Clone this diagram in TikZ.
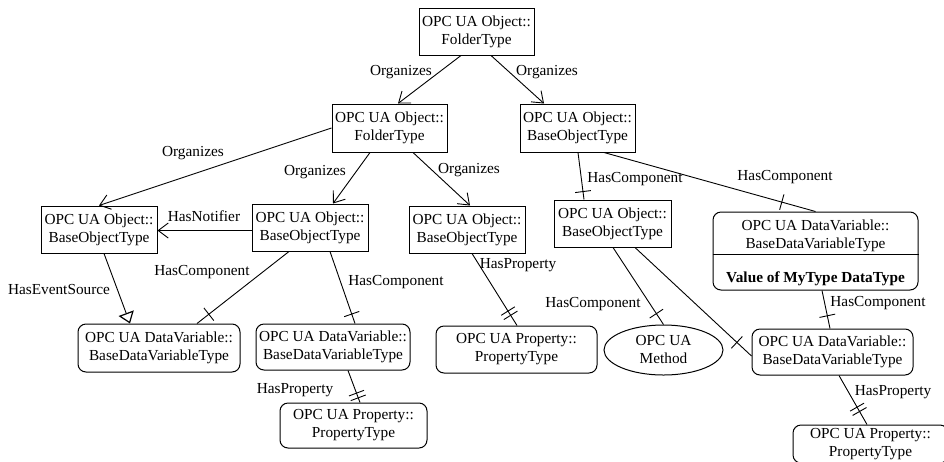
\documentclass[tikz,border=0pt]{standalone}
\usepackage{fontspec}
\setmainfont{Liberation Serif}
\usetikzlibrary{arrows.meta,shapes.geometric,decorations.markings}

\tikzset{
  base/.style={draw, line width=1pt, inner sep=0pt, align=center,
    font=\fontsize{15.3}{18}\selectfont},
  objbox/.style={base, rectangle, minimum width=#1, minimum height=47pt},
  varbox/.style={base, rectangle, rounded corners=8pt, minimum width=#1, minimum height=47pt},
  methodnode/.style={base, ellipse, minimum width=119pt, minimum height=50pt},
  lbl/.style={inner sep=0pt, font=\fontsize{15.3}{18}\selectfont},
  conn/.style={line width=0.9pt},
  organizes/.style={conn, -{Straight Barb[length=10pt,width=15pt,line width=0.9pt]}},
  eventsrc/.style={conn, -{Triangle[open,length=11pt,width=16pt,line width=1.2pt]}},
  onetick/.style={conn, postaction={decorate, decoration={markings,
      mark=at position -#1 with {\draw[line width=0.9pt] (0,-8pt) -- (0,8pt);}}}},
  twotick/.style={conn, postaction={decorate, decoration={markings,
      mark=at position -#1 with {\draw[line width=0.9pt] (0,-8pt) -- (0,8pt);},
      mark=at position -#1-5pt with {\draw[line width=0.9pt] (0,-8pt) -- (0,8pt);}}}}
}

\begin{document}
\begin{tikzpicture}[x=1pt,y=-1pt]
\clip (0,0) rectangle (944,461);

% object nodes
\node[objbox=115pt] (A) at (476.5,31.5) {OPC UA Object::\\FolderType};
\node[objbox=115pt, minimum height=48pt] (B) at (389.5,128) {OPC UA Object::\\FolderType};
\node[objbox=115pt, minimum height=48pt] (C) at (577.5,128) {OPC UA Object::\\BaseObjectType};
\node[objbox=116pt] (D) at (99,229.5) {OPC UA Object::\\BaseObjectType};
\node[objbox=116pt] (E) at (310,227.5) {OPC UA Object::\\BaseObjectType};
\node[objbox=116pt] (F) at (467,229.5) {OPC UA Object::\\BaseObjectType};
\node[objbox=117pt] (G) at (612.5,223.5) {OPC UA Object::\\BaseObjectType};

% data variable with value compartment
\node[varbox=205pt, minimum height=78pt] (H) at (815.5,251) {};
\node[lbl, align=center] (Htitle) at (815.5,235.5) {OPC UA DataVariable::\\BaseDataVariableType};
\draw[line width=1pt] ([yshift=-43pt]H.north west) -- ([yshift=-43pt]H.north east);
\node[lbl, font=\fontsize{15.3}{18}\selectfont\bfseries] (Hvalue) at (815.5,279) {Value of MyType DataType};

% variables, properties, method
\node[varbox=162pt, minimum height=48pt] (I) at (159,348) {OPC UA DataVariable::\\BaseDataVariableType};
\node[varbox=154pt, minimum height=46pt] (J) at (333,347) {OPC UA DataVariable::\\BaseDataVariableType};
\node[varbox=147pt, minimum height=45pt] (K) at (353.5,425.5) {OPC UA Property::\\PropertyType};
\node[varbox=161pt] (L) at (516.5,349.5) {OPC UA Property::\\PropertyType};
\node[methodnode] (M) at (663.5,350) {OPC UA\\Method};
\node[varbox=161pt, minimum height=46pt] (N) at (832.5,352) {OPC UA DataVariable::\\BaseDataVariableType};
\node[varbox=155pt, minimum height=38pt] (O) at (870.5,444) {OPC UA Property::\\PropertyType};

% Organizes references
\draw[organizes] ([xshift=-15.5pt]A.south) -- ([xshift=8.5pt]B.north);
\draw[organizes] ([xshift=14.5pt]A.south) -- ([xshift=-33.5pt]C.north);
\draw[organizes] (B.west) -- (D.north);
\draw[organizes] ([xshift=-19.5pt]B.south) -- ([xshift=23pt]E.north);
\draw[organizes] ([xshift=23.5pt]B.south) -- ([xshift=3pt]F.north);

% notifier and event source
\draw[organizes] ([yshift=-3pt]E.west) -- ([yshift=-1pt]D.east);
\draw[eventsrc] ([xshift=5pt]D.south) -- ([xshift=-29pt]I.north);

% components
\draw[onetick=15pt] ([xshift=-21pt]E.south) -- ([xshift=38pt]I.north);
\draw[onetick=10pt] ([xshift=20pt]E.south) -- ([xshift=22pt]J.north);
\draw[onetick=8pt] ([xshift=0.5pt]C.south) -- ([xshift=-28.5pt]G.north);
\draw[onetick=35pt] ([xshift=26.5pt]C.south) -- (H.north);
\draw[onetick=13pt] ([xshift=0.5pt]G.south) -- (M.north);
\draw[onetick=20pt] ([xshift=22.5pt]G.south) -- ([yshift=-4pt]N.west);
\draw[onetick=13pt] ([xshift=6.5pt]H.south) -- ([xshift=-2.5pt]N.north);

% properties
\draw[twotick=12pt] ([xshift=5pt]F.south) -- ([xshift=0.5pt]L.north);
\draw[twotick=5pt] ([xshift=15pt]J.south) -- ([xshift=6.5pt]K.north);
\draw[twotick=15pt] ([xshift=6.5pt]N.south) -- ([xshift=-3.5pt]O.north);

% reference labels
\node[lbl] (lAB) at (401,72) {Organizes};
\node[lbl] (lAC) at (547,72) {Organizes};
\node[lbl] (lBD) at (193,153) {Organizes};
\node[lbl] (lBE) at (315,172) {Organizes};
\node[lbl] (lBF) at (469,170) {Organizes};
\node[lbl] (lED) at (204,216) {HasNotifier};
\node[lbl] (lDI) at (59,290) {HasEventSource};
\node[lbl] (lEI) at (202,272) {HasComponent};
\node[lbl] (lEJ) at (396,282) {HasComponent};
\node[lbl] (lFL) at (518,265) {HasProperty};
\node[lbl] (lJK) at (295,390) {HasProperty};
\node[lbl] (lCG) at (635,179) {HasComponent};
\node[lbl] (lCH) at (785,177) {HasComponent};
\node[lbl] (lGM) at (593,304) {HasComponent};
\node[lbl] (lHN) at (878,303) {HasComponent};
\node[lbl] (lNO) at (893,392) {HasProperty};
\end{tikzpicture}
\end{document}
